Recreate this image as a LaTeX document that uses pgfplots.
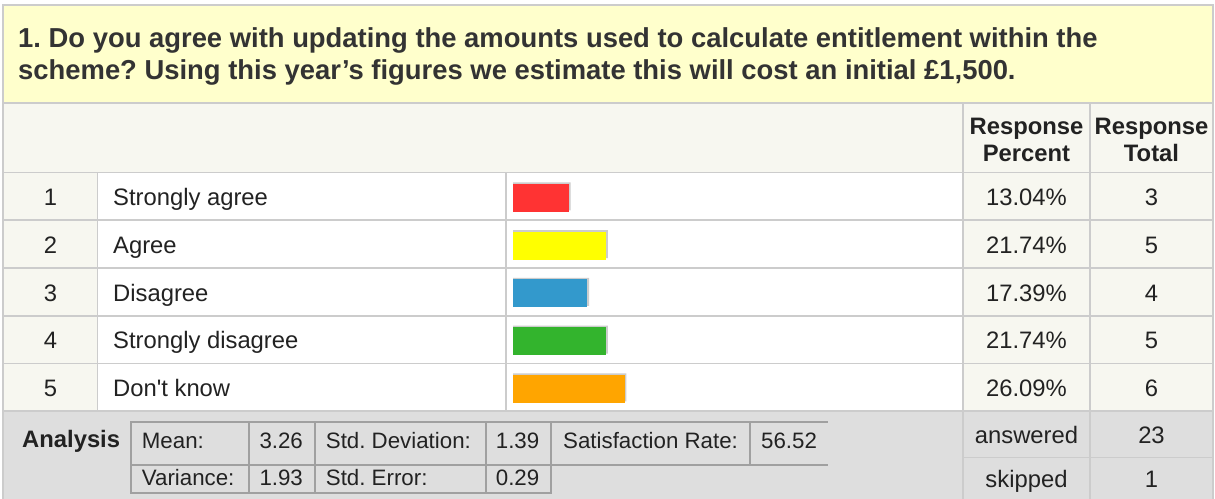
\documentclass[border=0pt]{standalone}
\usepackage{pgfplots}
\usepackage{pgfplotstable}
\pgfplotsset{compat=1.18}
\usepackage{fontspec}
\setmainfont{Liberation Sans}[Ligatures=TeXOff]
\frenchspacing
\definecolor{titlebg}{HTML}{FFFFCC}
\definecolor{beige}{HTML}{F7F7F0}
\definecolor{linegray}{HTML}{CCCCCC}
\definecolor{anbg}{HTML}{DEDEDE}
\definecolor{boxline}{HTML}{A0A0A0}
\definecolor{txt}{HTML}{222222}
\definecolor{ttl}{HTML}{333333}
\definecolor{cred}{HTML}{FF3333}
\definecolor{cyellow}{HTML}{FFFF00}
\definecolor{cblue}{HTML}{3399CC}
\definecolor{cgreen}{HTML}{33B42D}
\definecolor{corange}{HTML}{FFA500}
\definecolor{shadowgray}{HTML}{CCCCCC}

\pgfplotstableread{
y pct
5 13.04
4 21.74
3 17.39
2 21.74
1 26.09
}\bardata

\begin{document}
\begin{tikzpicture}[every node/.style={text=txt, inner sep=0pt, font=\fontsize{23.8bp}{28bp}\selectfont},
  cell/.style={anchor=base west, font=\fontsize{22.3bp}{26bp}\selectfont}]
\begin{axis}[at={(0,0)}, anchor=south west, scale only axis, width=1215bp, height=499bp,
  xmin=0, xmax=1215, ymin=0, ymax=499, y dir=reverse, axis lines=none, clip=false]
% backgrounds
\fill[white] (0,0) rectangle (1215,499);
\fill[titlebg] (3,5) rectangle (1213,103);
\fill[beige] (3,103) rectangle (1213,172.5);
\fill[beige] (3,172.5) rectangle (97.5,411.3);
\fill[white] (97.5,172.5) rectangle (963,411.3);
\fill[beige] (963,172.5) rectangle (1213,411.3);
\fill[anbg] (3,411.3) rectangle (1213,499);
% grid lines
\draw[linegray, line width=1.7bp] (3,103) -- (1213,103);
\draw[linegray, line width=1.7bp] (3,172.5) -- (1213,172.5);
\draw[linegray, line width=1.7bp] (3,220.3) -- (1213,220.3);
\draw[linegray, line width=1.7bp] (3,268) -- (1213,268);
\draw[linegray, line width=1.7bp] (3,315.75) -- (1213,315.75);
\draw[linegray, line width=1.7bp] (3,363.5) -- (1213,363.5);
\draw[linegray, line width=1.7bp] (3,411.3) -- (1213,411.3);
\draw[linegray, line width=1.7bp] (97.5,172.5) -- (97.5,411.3);
\draw[linegray, line width=1.7bp] (506,172.5) -- (506,411.3);
\draw[linegray, line width=1.7bp] (963,103) -- (963,499);
\draw[linegray, line width=1.7bp] (1090,103) -- (1090,499);
\draw[linegray, line width=1.7bp] (963,457.5) -- (1213,457.5);
% outer border
\draw[linegray, line width=2bp] (3,499) -- (3,5) -- (1213,5) -- (1213,499);
% title
\node[anchor=base west, font=\fontsize{27.4bp}{32bp}\selectfont\bfseries, text=ttl] at (18,48) {1. Do you agree with updating the amounts used to calculate entitlement within the};
\node[anchor=base west, font=\fontsize{27.4bp}{32bp}\selectfont\bfseries, text=ttl] at (18,80) {scheme? Using this year’s figures we estimate this will cost an initial £1,500.};
% header
\node[anchor=base, font=\fontsize{23.8bp}{28bp}\selectfont\bfseries] at (1026.5,134.5) {Response};
\node[anchor=base, font=\fontsize{23.8bp}{28bp}\selectfont\bfseries] at (1026.5,161) {Percent};
\node[anchor=base, font=\fontsize{23.8bp}{28bp}\selectfont\bfseries] at (1151.5,134.5) {Response};
\node[anchor=base, font=\fontsize{23.8bp}{28bp}\selectfont\bfseries] at (1151.5,161) {Total};
% rows
\node[anchor=base] at (50.5,205.5) {1};
\node[anchor=base west] at (113,205.5) {Strongly agree};
\node[anchor=base] at (1026.5,205.5) {13.04\%};
\node[anchor=base] at (1151.5,205.5) {3};
\node[anchor=base] at (50.5,253.2) {2};
\node[anchor=base west] at (113,253.2) {Agree};
\node[anchor=base] at (1026.5,253.2) {21.74\%};
\node[anchor=base] at (1151.5,253.2) {5};
\node[anchor=base] at (50.5,301) {3};
\node[anchor=base west] at (113,301) {Disagree};
\node[anchor=base] at (1026.5,301) {17.39\%};
\node[anchor=base] at (1151.5,301) {4};
\node[anchor=base] at (50.5,348.7) {4};
\node[anchor=base west] at (113,348.7) {Strongly disagree};
\node[anchor=base] at (1026.5,348.7) {21.74\%};
\node[anchor=base] at (1151.5,348.7) {5};
\node[anchor=base] at (50.5,396.5) {5};
\node[anchor=base west] at (113,396.5) {Don't know};
\node[anchor=base] at (1026.5,396.5) {26.09\%};
\node[anchor=base] at (1151.5,396.5) {6};
% analysis
\node[anchor=base west, font=\fontsize{23.8bp}{28bp}\selectfont\bfseries] at (22,447) {Analysis};
\draw[boxline, line width=2bp] (131,422) -- (828,422);
\draw[boxline, line width=2bp] (131,465) -- (828,465);
\draw[boxline, line width=2bp] (131,493) -- (551,493);
\draw[boxline, line width=2bp] (131,421) -- (131,494);
\draw[boxline, line width=2bp] (249,421) -- (249,494);
\draw[boxline, line width=2bp] (315,421) -- (315,494);
\draw[boxline, line width=2bp] (485.7,421) -- (485.7,494);
\draw[boxline, line width=2bp] (551,421) -- (551,494);
\draw[boxline, line width=2bp] (750,421) -- (750,466);
\node[cell] at (141.7,448.7) {Mean:};
\node[cell] at (259.3,448.7) {3.26};
\node[cell] at (325.7,448.7) {Std. Deviation:};
\node[cell] at (495.7,448.7) {1.39};
\node[cell] at (563,448.7) {Satisfaction Rate:};
\node[cell] at (761,448.7) {56.52};
\node[cell] at (141.7,485.3) {Variance:};
\node[cell] at (259.3,485.3) {1.93};
\node[cell] at (325.7,485.3) {Std. Error:};
\node[cell] at (495.7,485.3) {0.29};
\node[anchor=base] at (1026.5,443) {answered};
\node[anchor=base] at (1151.5,443) {23};
\node[anchor=base] at (1026.5,487) {skipped};
\node[anchor=base] at (1151.5,487) {1};
\end{axis}
\begin{axis}[at={(513bp,86.25bp)}, anchor=south west, scale only axis, width=428bp, height=238.75bp,
  xmin=0, xmax=100, ymin=0.5, ymax=5.5, axis lines=none, xbar, bar width=28bp, clip=false]
\addplot[fill=shadowgray, draw=none, bar shift=1.5bp] table[x expr=\thisrow{pct}+0.4, y=y] {\bardata};
\addplot[fill=cred, draw=none, bar shift=0pt] coordinates {(13.04,5)};
\addplot[fill=cyellow, draw=none, bar shift=0pt] coordinates {(21.74,4)};
\addplot[fill=cblue, draw=none, bar shift=0pt] coordinates {(17.39,3)};
\addplot[fill=cgreen, draw=none, bar shift=0pt] coordinates {(21.74,2)};
\addplot[fill=corange, draw=none, bar shift=0pt] coordinates {(26.09,1)};
\end{axis}
\pgfresetboundingbox
\path[use as bounding box] (0,0) rectangle (1215bp,499bp);
\end{tikzpicture}
\end{document}
